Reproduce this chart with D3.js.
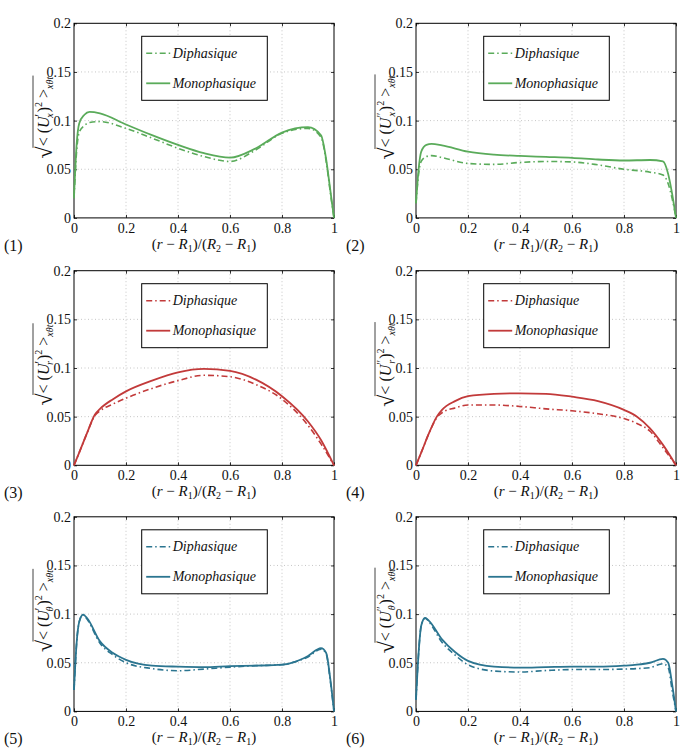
<!DOCTYPE html>
<html><head><meta charset="utf-8">
<script src="https://cdn.jsdelivr.net/npm/d3@7"></script>
<style>body{margin:0;background:#fff}svg{display:block}
svg text{font-family:"Liberation Serif","Times New Roman","DejaVu Serif",serif;}
</style>
</head><body>
<svg id="c" width="681" height="752"></svg>
<script>
// ---- data ----
const panelTags = ["(1)","(2)","(3)","(4)","(5)","(6)"];
const primes = ["′","″","′","″","′","″"];
const comps = ["x","x","r","r","θ","θ"];
const seriesNames = ["Diphasique","Monophasique"];
const xTicks = [0,0.2,0.4,0.6,0.8,1];
const yTicks = [0,0.05,0.1,0.15,0.2];
const xTickLabels = ["0","0.2","0.4","0.6","0.8","1"];
const yTickLabels = ["0","0.05","0.1","0.15","0.2"];

const x1 = [0,0.01,0.02,0.04,0.06,0.1,0.2,0.3,0.4,0.5,0.6,0.7,0.8,0.9,0.95,0.97,0.985,1];
const mono1 = [0.022,0.075,0.097,0.106,0.109,0.1075,0.096,0.085,0.075,0.0665,0.062,0.0716,0.0877,0.0932,0.085,0.06,0.03,0];
const diph1 = [0.02,0.068,0.088,0.095,0.098,0.099,0.092,0.082,0.0716,0.063,0.058,0.070,0.087,0.092,0.083,0.058,0.028,0];

const x2 = [0,0.01,0.02,0.04,0.06,0.1,0.2,0.3,0.4,0.5,0.6,0.7,0.8,0.9,0.95,0.97,0.985,1];
const mono2 = [0.015,0.05,0.068,0.075,0.076,0.0745,0.068,0.065,0.0637,0.0627,0.0617,0.060,0.059,0.0595,0.058,0.045,0.025,0];
const diph2 = [0.015,0.045,0.058,0.063,0.064,0.062,0.056,0.055,0.057,0.058,0.0575,0.0545,0.050,0.047,0.044,0.035,0.02,0];

const x3 = [0,0.02,0.05,0.08,0.1,0.15,0.2,0.3,0.4,0.5,0.6,0.7,0.8,0.9,0.95,1];
const mono3 = [0,0.013,0.033,0.052,0.058,0.068,0.076,0.087,0.0955,0.099,0.097,0.088,0.071,0.045,0.026,0];
const diph3 = [0,0.013,0.033,0.051,0.056,0.063,0.069,0.079,0.087,0.0925,0.091,0.083,0.068,0.041,0.022,0];

const x4 = [0,0.02,0.05,0.08,0.1,0.15,0.2,0.3,0.4,0.5,0.6,0.7,0.8,0.85,0.9,0.95,1];
const mono4 = [0,0.013,0.033,0.05,0.057,0.066,0.071,0.0735,0.074,0.0735,0.0705,0.066,0.057,0.05,0.038,0.021,0];
const diph4 = [0,0.013,0.033,0.049,0.054,0.059,0.062,0.062,0.0605,0.058,0.056,0.053,0.048,0.043,0.035,0.018,0];

const x5 = [0,0.01,0.02,0.035,0.05,0.1,0.15,0.2,0.3,0.4,0.5,0.6,0.7,0.8,0.85,0.9,0.95,0.97,0.985,1];
const mono5 = [0.022,0.07,0.092,0.0995,0.096,0.072,0.060,0.053,0.047,0.046,0.0455,0.0465,0.047,0.048,0.051,0.057,0.065,0.06,0.035,0];
const diph5 = [0.022,0.07,0.092,0.0995,0.095,0.070,0.058,0.050,0.044,0.0418,0.0435,0.0455,0.047,0.048,0.051,0.056,0.064,0.059,0.033,0];

const x6 = [0,0.01,0.02,0.035,0.05,0.1,0.15,0.2,0.3,0.4,0.5,0.6,0.7,0.8,0.85,0.9,0.95,0.97,0.985,1];
const mono6 = [0.012,0.06,0.088,0.096,0.093,0.074,0.061,0.052,0.046,0.045,0.0455,0.046,0.046,0.047,0.048,0.050,0.054,0.05,0.028,0];
const diph6 = [0.012,0.06,0.088,0.096,0.092,0.071,0.058,0.048,0.0415,0.0405,0.042,0.043,0.043,0.0435,0.044,0.045,0.049,0.045,0.022,0];

const xs = [x1,x2,x3,x4,x5,x6];
const monos = [mono1,mono2,mono3,mono4,mono5,mono6];
const diphs = [diph1,diph2,diph3,diph4,diph5,diph6];
const colors = ["#5aab5a","#5aab5a","#c23a3a","#c23a3a","#2b7590","#2b7590"];

// ---- layout ----
const colLeft = [74, 416];
const plotW = 260;
const rowTop = [23.3, 270.7, 516.8];
const plotH = 194.6;
const svg = d3.select("#c");
svg.append("rect").attr("width",681).attr("height",752).attr("fill","#fff");

for (let i = 0; i < 6; i++) {
  const L = colLeft[i % 2], T = rowTop[Math.floor(i / 2)];
  const x = d3.scaleLinear().domain([0,1]).range([L, L + plotW]);
  const y = d3.scaleLinear().domain([0,0.2]).range([T + plotH, T]);
  const g = svg.append("g");

  // grid
  g.selectAll(".gx").data(xTicks.slice(1,-1)).enter().append("line")
    .attr("x1", d => x(d)).attr("x2", d => x(d)).attr("y1", T).attr("y2", T + plotH)
    .attr("stroke","#b8b8b8").attr("stroke-width",0.8).attr("stroke-dasharray","1,2.5");
  g.selectAll(".gy").data(yTicks.slice(1,-1)).enter().append("line")
    .attr("y1", d => y(d)).attr("y2", d => y(d)).attr("x1", L).attr("x2", L + plotW)
    .attr("stroke","#b8b8b8").attr("stroke-width",0.8).attr("stroke-dasharray","1,2.5");

  // axes (inward ticks, MATLAB style)
  const ax = g.append("g").attr("transform",`translate(0,${T + plotH})`)
    .call(d3.axisBottom(x).tickValues(xTicks).tickSizeInner(-3).tickSizeOuter(0).tickPadding(5)
      .tickFormat((d,k) => xTickLabels[k]));
  const ay = g.append("g").attr("transform",`translate(${L},0)`)
    .call(d3.axisLeft(y).tickValues(yTicks).tickSizeInner(-3).tickSizeOuter(0).tickPadding(3)
      .tickFormat((d,k) => yTickLabels[k]));
  g.append("g").attr("transform",`translate(0,${T})`)
    .call(d3.axisTop(x).tickValues(xTicks).tickSizeInner(-3).tickSizeOuter(0).tickFormat(""));
  g.append("g").attr("transform",`translate(${L + plotW},0)`)
    .call(d3.axisRight(y).tickValues(yTicks).tickSizeInner(-3).tickSizeOuter(0).tickFormat(""));
  g.selectAll(".domain").attr("stroke","none");
  g.selectAll(".tick line").attr("stroke","#000").attr("stroke-width",0.8);
  g.selectAll(".tick text").attr("font-family",null).attr("font-size",14).attr("fill","#111");
  ax.selectAll(".tick text").attr("dy","0.7em");
  g.append("rect").attr("x",L).attr("y",T).attr("width",plotW).attr("height",plotH)
    .attr("fill","none").attr("stroke","#000").attr("stroke-width",1);

  // lines
  const line = d3.line().x(d => x(d[0])).y(d => y(d[1])).curve(d3.curveMonotoneX);
  const xv = xs[i];
  g.append("path").datum(xv.map((v,k) => [v, monos[i][k]])).attr("d", line)
    .attr("fill","none").attr("stroke",colors[i]).attr("stroke-width",1.8);
  g.append("path").datum(xv.map((v,k) => [v, diphs[i][k]])).attr("d", line)
    .attr("fill","none").attr("stroke",colors[i]).attr("stroke-width",1.6)
    .attr("stroke-dasharray","6,3,1.5,3");

  // legend
  const lx = L + 67.7, ly = T + 13;
  g.append("rect").attr("x",lx).attr("y",ly).attr("width",125.6).attr("height",64)
    .attr("fill","#fff").attr("stroke","#000").attr("stroke-width",1);
  [0,1].forEach(k => {
    const yy = ly + 17 + k * 30;
    g.append("line").attr("x1",lx + 4.5).attr("x2",lx + 28.5).attr("y1",yy).attr("y2",yy)
      .attr("stroke",colors[i]).attr("stroke-width",k === 0 ? 1.6 : 1.8)
      .attr("stroke-dasharray",k === 0 ? "6,3,1.5,3" : null);
    g.append("text").attr("x",lx + 31).attr("y",yy + 4.5).text(seriesNames[k])
      .attr("font-style","italic").attr("font-size",14).attr("fill","#111");
  });

  // x label
  const xl = g.append("text").attr("x", L + plotW/2).attr("y", T + plotH + 31)
    .attr("text-anchor","middle").attr("font-size",15).attr("fill","#111");
  xl.append("tspan").text("(");
  xl.append("tspan").text("r").attr("font-style","italic");
  xl.append("tspan").text(" − ");
  xl.append("tspan").text("R").attr("font-style","italic");
  xl.append("tspan").text("1").attr("font-size",10).attr("dy",3);
  xl.append("tspan").text(")/(").attr("dy",-3);
  xl.append("tspan").text("R").attr("font-style","italic");
  xl.append("tspan").text("2").attr("font-size",10).attr("dy",3);
  xl.append("tspan").text(" − ").attr("dy",-3);
  xl.append("tspan").text("R").attr("font-style","italic");
  xl.append("tspan").text("1").attr("font-size",10).attr("dy",3);
  xl.append("tspan").text(")").attr("dy",-3);

  // panel tag
  g.append("text").attr("x", L - 70).attr("y", T + plotH + 33).text(panelTags[i])
    .attr("font-size",16).attr("fill","#111");

  // y label (sqrt with overline)
  const yg = g.append("g").attr("transform",`translate(${L - 25},${T + plotH/2 - 3}) rotate(-90)`);
  const yt = yg.append("text").attr("font-size",16).attr("fill","#111")
    .attr("text-anchor","middle");
  const sq = yt.append("tspan").text("√").attr("font-size",22).attr("dy",3);
  yt.append("tspan").text("< (").attr("dy",-3);
  yt.append("tspan").text("U").attr("font-style","italic");
  yt.append("tspan").text(primes[i]).attr("font-size",12).attr("dy",-6);
  yt.append("tspan").text(comps[i]).attr("font-size",10).attr("font-style","italic").attr("dy",10).attr("dx",-4);
  yt.append("tspan").text(")").attr("dy",-4).attr("dx",1);
  yt.append("tspan").text("2").attr("font-size",10).attr("dy",-7);
  yt.append("tspan").text(" >").attr("dy",7);
  yt.append("tspan").text("xθt").attr("font-size",10).attr("font-style","italic").attr("dy",4);
  const bb = yt.node().getBBox();
  const sqW = sq.node().getComputedTextLength();
  yg.append("line").attr("x1", bb.x + sqW - 1.5).attr("x2", bb.x + bb.width + 1)
    .attr("y1", -16).attr("y2", -16).attr("stroke","#111").attr("stroke-width",0.8);
}
</script>
</body></html>
